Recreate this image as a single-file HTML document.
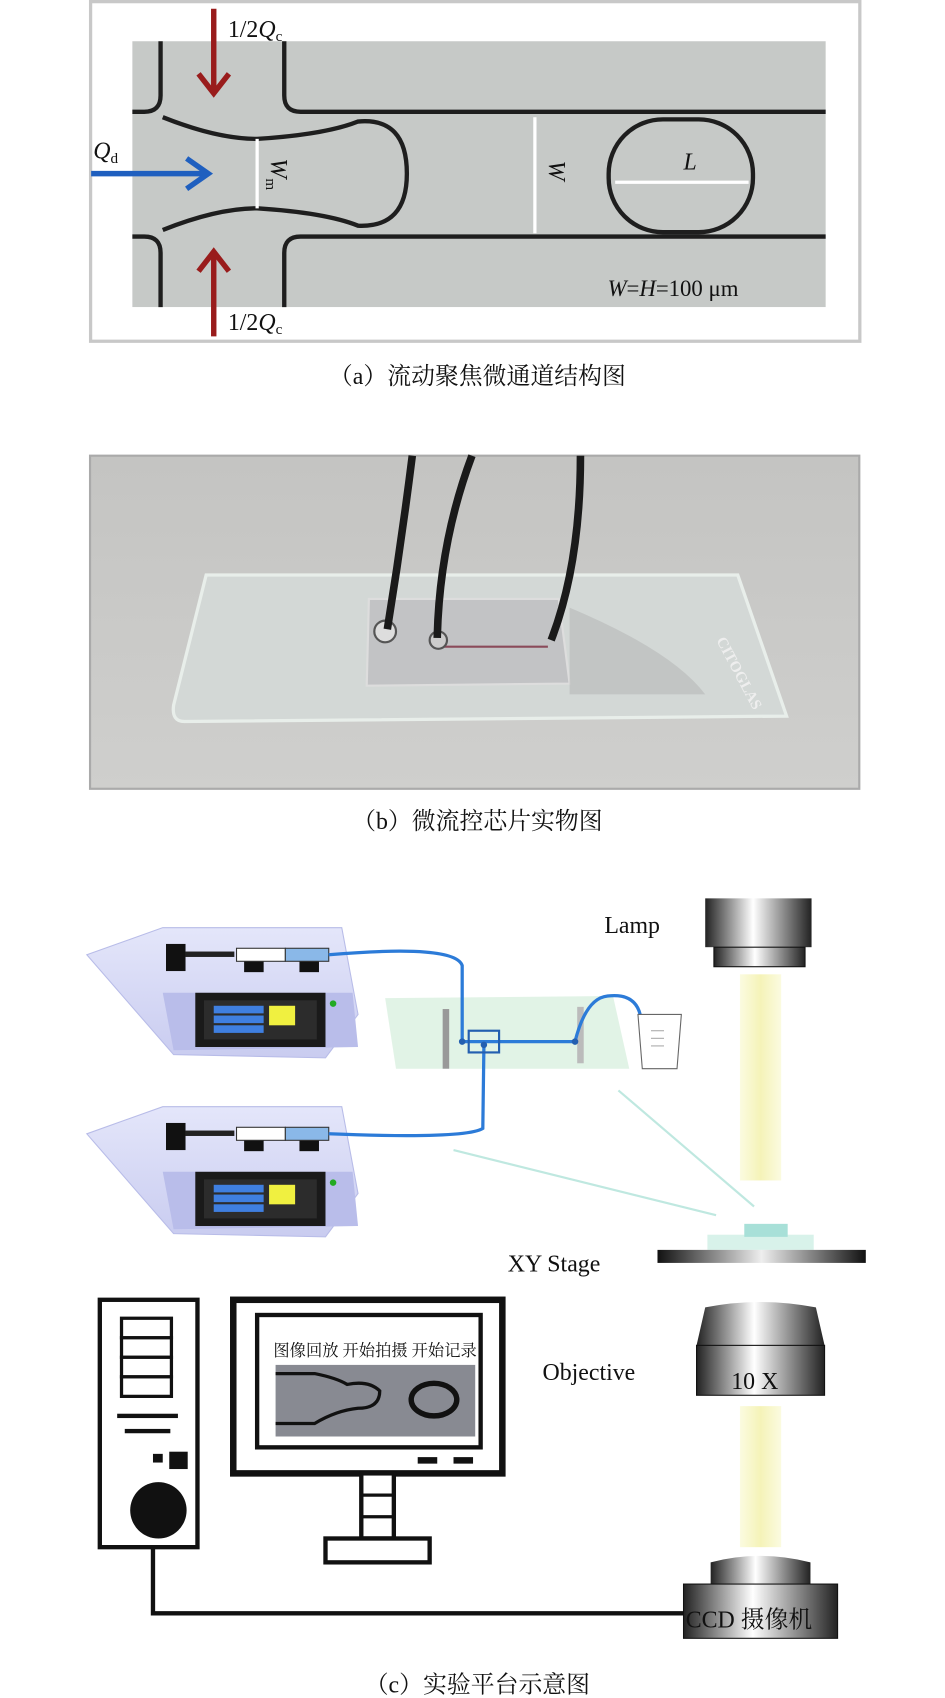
<!DOCTYPE html>
<html><head><meta charset="utf-8"><style>
html,body{margin:0;padding:0;background:#fff}
svg{display:block}
text{font-family:"Liberation Serif","Noto Serif CJK SC",serif}
</style></head><body>
<svg width="945" height="1698" viewBox="0 0 871 1565" xmlns="http://www.w3.org/2000/svg">
<defs>
<linearGradient id="cyl" x1="0" x2="1"><stop offset="0" stop-color="#222"/><stop offset=".45" stop-color="#fff"/><stop offset="1" stop-color="#222"/></linearGradient>
<linearGradient id="bar" x1="0" x2="1"><stop offset="0" stop-color="#111"/><stop offset=".5" stop-color="#eee"/><stop offset="1" stop-color="#111"/></linearGradient>
<linearGradient id="beam" x1="0" x2="1"><stop offset="0" stop-color="#fbfbe0"/><stop offset=".5" stop-color="#f5f3b8"/><stop offset="1" stop-color="#fbfbe0"/></linearGradient>
<linearGradient id="photo" x1="0" y1="0" x2="0" y2="1"><stop offset="0" stop-color="#c4c4c2"/><stop offset="1" stop-color="#cfcfcd"/></linearGradient>
<linearGradient id="pump" x1="0" y1="0" x2="0" y2="1"><stop offset="0" stop-color="#e4e6fa"/><stop offset="1" stop-color="#c9ccf0"/></linearGradient>
</defs>

<!-- Panel a -->
<rect x="83.5" y="1.5" width="709" height="313" fill="#fff" stroke="#c8c8c8" stroke-width="3"/>
<rect x="122" y="38" width="639" height="245" fill="#c6c9c7"/>
<g fill="none" stroke="#1e1e1e" stroke-width="4">
<path d="M148 38 V88 Q148 103 133 103 H122"/>
<path d="M262 38 V88 Q262 103 277 103 H761"/>
<path d="M148 283 V233 Q148 218 133 218 H122"/>
<path d="M262 283 V233 Q262 218 277 218 H761"/>
<path d="M150 108 Q200 128 237 128 Q300 124 330 112 Q375 108 375 160 Q375 210 330 208 Q300 196 237 192 Q200 192 150 212"/>
<rect x="561" y="110" width="133" height="104" rx="50"/>
</g>
<g stroke="#fff" stroke-width="3">
<line x1="237" y1="128" x2="237" y2="192"/>
<line x1="493" y1="108" x2="493" y2="215"/>
<line x1="567" y1="168" x2="690" y2="168"/>
</g>
<text x="630" y="156" font-size="22" font-style="italic" fill="#111">L</text>
<text transform="translate(250,146) rotate(90)" font-size="22" font-style="italic" fill="#111">W<tspan font-size="14" font-style="normal" dy="5">m</tspan></text>
<text transform="translate(506,148) rotate(90)" font-size="22" font-style="italic" fill="#111">W</text>
<text x="560" y="273" font-size="21" fill="#111"><tspan font-style="italic">W</tspan>=<tspan font-style="italic">H</tspan>=100 μm</text>
<g stroke="#991c1c" stroke-width="5" fill="none">
<line x1="197" y1="8" x2="197" y2="84"/><path d="M183 68 L197 86 L211 68"/>
<line x1="197" y1="310" x2="197" y2="234"/><path d="M183 250 L197 232 L211 250"/>
</g>
<g stroke="#1f5fbf" stroke-width="5" fill="none">
<line x1="84" y1="160" x2="190" y2="160"/><path d="M172 146 L192 160 L172 174"/>
</g>
<text x="210" y="34" font-size="22" fill="#111">1/2<tspan font-style="italic">Q</tspan><tspan font-size="14" dy="4">c</tspan></text>
<text x="210" y="304" font-size="22" fill="#111">1/2<tspan font-style="italic">Q</tspan><tspan font-size="14" dy="4">c</tspan></text>
<text x="86" y="146" font-size="22" font-style="italic" fill="#111">Q<tspan font-size="14" font-style="normal" dy="4">d</tspan></text>
<text x="440" y="354" font-size="22" text-anchor="middle" fill="#111">（a）流动聚焦微通道结构图</text>

<!-- Panel b -->
<rect x="83" y="420" width="709" height="307" fill="url(#photo)" stroke="#aaa" stroke-width="2"/>
<path d="M190 530 L680 530 L725 660 L170 665 Q158 665 160 650 Z" fill="#d3d8d6" stroke="#e8eeea" stroke-width="3"/>
<path d="M340 552 L515 552 L525 630 L338 632 Z" fill="#c2c3c5" stroke="#ddd" stroke-width="2"/>
<path d="M525 560 Q620 600 650 640 L525 640 Z" fill="#aaa" opacity=".4"/>
<line x1="400" y1="596" x2="505" y2="596" stroke="#8a4a5a" stroke-width="2"/>
<circle cx="355" cy="582" r="10" fill="#ddd" stroke="#555" stroke-width="2"/>
<circle cx="404" cy="590" r="8" fill="#ccc" stroke="#555" stroke-width="2"/>
<g stroke="#1a1a1a" stroke-width="7" fill="none">
<path d="M380 420 Q370 500 357 580"/>
<path d="M435 420 Q405 500 403 588"/>
<path d="M535 420 Q535 520 508 590"/>
</g>
<text transform="translate(660,590) rotate(62)" font-size="14" font-weight="bold" fill="#eee" font-family="Liberation Sans">CITOGLAS</text>
<text x="440" y="764" font-size="22" text-anchor="middle" fill="#111">（b）微流控芯片实物图</text>

<!-- Panel c pumps -->
<g>
<path d="M80 880 L150 855 L315 855 L330 935 L300 975 L160 972 Z" fill="url(#pump)" stroke="#b8bce8"/>
<path d="M150 915 L325 915 L330 965 L160 968 Z" fill="#b9bdea"/>
<rect x="180" y="915" width="120" height="50" fill="#1a1a1a"/>
<rect x="188" y="922" width="104" height="36" fill="#2c2c2c"/>
<rect x="197" y="927" width="46" height="7" fill="#3f7fe0"/><rect x="197" y="936" width="46" height="7" fill="#3f7fe0"/><rect x="197" y="945" width="46" height="7" fill="#3f7fe0"/>
<rect x="248" y="927" width="24" height="18" fill="#f0f040"/>
<circle cx="307" cy="925" r="3" fill="#2a2"/>
<rect x="153" y="870" width="18" height="25" fill="#111"/><rect x="225" y="880" width="18" height="16" fill="#111"/><rect x="276" y="876" width="18" height="20" fill="#111"/>
<rect x="171" y="877" width="45" height="5" fill="#222"/>
<rect x="218" y="874" width="45" height="12" fill="#fff" stroke="#333"/>
<rect x="263" y="874" width="40" height="12" fill="#8ab8e8" stroke="#333"/>
</g>
<g transform="translate(0,165)">
<path d="M80 880 L150 855 L315 855 L330 935 L300 975 L160 972 Z" fill="url(#pump)" stroke="#b8bce8"/>
<path d="M150 915 L325 915 L330 965 L160 968 Z" fill="#b9bdea"/>
<rect x="180" y="915" width="120" height="50" fill="#1a1a1a"/>
<rect x="188" y="922" width="104" height="36" fill="#2c2c2c"/>
<rect x="197" y="927" width="46" height="7" fill="#3f7fe0"/><rect x="197" y="936" width="46" height="7" fill="#3f7fe0"/><rect x="197" y="945" width="46" height="7" fill="#3f7fe0"/>
<rect x="248" y="927" width="24" height="18" fill="#f0f040"/>
<circle cx="307" cy="925" r="3" fill="#2a2"/>
<rect x="153" y="870" width="18" height="25" fill="#111"/><rect x="225" y="880" width="18" height="16" fill="#111"/><rect x="276" y="876" width="18" height="20" fill="#111"/>
<rect x="171" y="877" width="45" height="5" fill="#222"/>
<rect x="218" y="874" width="45" height="12" fill="#fff" stroke="#333"/>
<rect x="263" y="874" width="40" height="12" fill="#8ab8e8" stroke="#333"/>
</g>
<!-- chip -->
<path d="M355 920 L565 918 L580 985 L365 985 Z" fill="#d9f0e0" opacity=".8"/>
<rect x="408" y="930" width="6" height="55" fill="#999"/>
<rect x="532" y="928" width="6" height="52" fill="#bbb"/>
<g stroke="#2c7bd8" stroke-width="3" fill="none">
<path d="M303 880 Q420 870 426 890 L426 960 L530 960 Q540 920 560 918 Q585 915 590 935"/>
<path d="M303 1045 Q430 1050 445 1040 L446 965"/>
</g>
<rect x="432" y="950" width="28" height="20" fill="none" stroke="#235fb0" stroke-width="2"/>
<circle cx="426" cy="960" r="3" fill="#235fb0"/><circle cx="446" cy="963" r="3" fill="#235fb0"/><circle cx="530" cy="960" r="3" fill="#235fb0"/>
<path d="M588 935 L628 935 L624 985 L592 985 Z" fill="#fff" stroke="#666"/>
<g stroke="#aaa"><line x1="600" y1="950" x2="612" y2="950"/><line x1="600" y1="957" x2="612" y2="957"/><line x1="600" y1="964" x2="612" y2="964"/></g>
<g stroke="#bfe8e0" stroke-width="2"><line x1="418" y1="1060" x2="660" y2="1120"/><line x1="570" y1="1005" x2="695" y2="1112"/></g>
<!-- lamp -->
<text x="557" y="860" font-size="22" fill="#111">Lamp</text>
<rect x="650" y="828" width="98" height="45" fill="url(#cyl)"/>
<rect x="658" y="873" width="84" height="18" fill="url(#cyl)" stroke="#111"/>
<rect x="682" y="898" width="38" height="190" fill="url(#beam)"/>
<!-- stage -->
<rect x="652" y="1138" width="98" height="14" fill="#d8f2ea"/>
<rect x="686" y="1128" width="40" height="12" fill="#a8e0d8"/>
<rect x="606" y="1152" width="192" height="12" fill="url(#bar)"/>
<text x="468" y="1172" font-size="22" fill="#111">XY Stage</text>
<!-- objective -->
<path d="M650 1205 Q700 1195 752 1205 L760 1240 L642 1240 Z" fill="url(#cyl)"/>
<rect x="642" y="1240" width="118" height="46" fill="url(#cyl)" stroke="#111"/>
<text x="674" y="1280" font-size="22" fill="#111">10 X</text>
<text x="500" y="1272" font-size="22" fill="#111">Objective</text>
<rect x="682" y="1296" width="38" height="130" fill="url(#beam)"/>
<!-- CCD -->
<path d="M655 1440 Q700 1428 747 1440 L747 1460 L655 1460 Z" fill="url(#cyl)"/>
<rect x="630" y="1460" width="142" height="50" fill="url(#cyl)" stroke="#111"/>
<text x="632" y="1500" font-size="22" fill="#111">CCD 摄像机</text>
<!-- computer -->
<rect x="92" y="1198" width="90" height="228" fill="#fff" stroke="#111" stroke-width="4"/>
<rect x="112" y="1215" width="46" height="18" fill="#fff" stroke="#111" stroke-width="3"/>
<rect x="112" y="1233" width="46" height="18" fill="#fff" stroke="#111" stroke-width="3"/>
<rect x="112" y="1251" width="46" height="18" fill="#fff" stroke="#111" stroke-width="3"/>
<rect x="112" y="1269" width="46" height="18" fill="#fff" stroke="#111" stroke-width="3"/>
<rect x="108" y="1303" width="56" height="4" fill="#111"/>
<rect x="115" y="1317" width="42" height="4" fill="#111"/>
<rect x="141" y="1340" width="9" height="8" fill="#111"/><rect x="156" y="1338" width="17" height="16" fill="#111"/>
<circle cx="146" cy="1392" r="26" fill="#111"/>
<path d="M141 1426 V1487 H630" fill="none" stroke="#111" stroke-width="4"/>
<rect x="215" y="1198" width="248" height="160" fill="#fff" stroke="#111" stroke-width="6"/>
<rect x="237" y="1212" width="206" height="122" fill="#fff" stroke="#111" stroke-width="4"/>
<text x="252" y="1250" font-size="15" fill="#111" font-family="Liberation Sans,Noto Sans CJK SC,sans-serif">图像回放 开始拍摄 开始记录</text>
<rect x="254" y="1258" width="184" height="66" fill="#888a92"/>
<path d="M254 1266 H290 Q310 1270 320 1276 Q340 1272 350 1282 Q350 1298 330 1298 Q310 1300 290 1312 H254" fill="none" stroke="#111" stroke-width="3"/>
<ellipse cx="400" cy="1290" rx="21" ry="15" fill="none" stroke="#111" stroke-width="5"/>
<rect x="420" y="1333" width="0" height="0"/>
<rect x="385" y="1343" width="18" height="6" fill="#111"/><rect x="418" y="1343" width="18" height="6" fill="#111"/>
<rect x="333" y="1358" width="30" height="60" fill="#fff" stroke="#111" stroke-width="4"/>
<line x1="333" y1="1378" x2="363" y2="1378" stroke="#111" stroke-width="3"/><line x1="333" y1="1398" x2="363" y2="1398" stroke="#111" stroke-width="3"/>
<rect x="300" y="1418" width="96" height="22" fill="#fff" stroke="#111" stroke-width="4"/>
<text x="440" y="1690" font-size="22" text-anchor="middle" fill="#111" transform="translate(0,-130)">（c）实验平台示意图</text>
</svg>
</body></html>
